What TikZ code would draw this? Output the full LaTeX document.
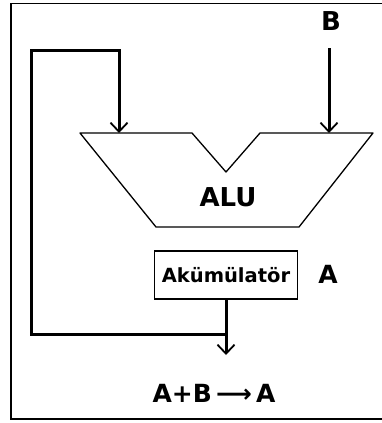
\documentclass[tikz,border=0pt]{standalone}
\usepackage{fontspec}
\setmainfont{DejaVu Sans}
\usetikzlibrary{arrows.meta}

\tikzset{
  feed/.style={line width=3pt,
    -{Straight Barb[length=9pt,width=17pt,line width=1.8pt]}},
  outline/.style={line width=1.3pt},
  biglbl/.style={font=\bfseries\fontsize{26}{30}\selectfont, inner sep=0pt},
  midlbl/.style={font=\bfseries\fontsize{25}{30}\selectfont, inner sep=0pt},
  reg/.style={draw, outline, minimum width=143pt, minimum height=48pt,
    inner sep=0pt, font=\bfseries\fontsize{19.5}{22}\selectfont},
}

\begin{document}
\begin{tikzpicture}
    [x=1pt,y=-1pt]
    \useasboundingbox (0,0) rectangle (382,423);
    %frame
    \draw[line width=2pt] (382,419)--(11,419)--(11,3);
    \draw[line width=1pt] (11,3)--(382,3);
    %alu
    \draw[outline,line join=round] (80,133)--(192,133)--(226,172)--(260,133)
      --(373,133)--(299,227)--(156,227)--cycle;
    \node[biglbl] (alu) at (228,197) {ALU};
    \coordinate (aluA) at (119,133);
    \coordinate (aluB) at (329,133);
    %inputs
    \node[biglbl] (B) at (331,21) {B};
    \coordinate (Bin) at (329,48);
    \draw[feed] (Bin)--(aluB);
    %accumulator
    \node[reg] (acc) at (226,275) {Akümülatör};
    \node[midlbl] (A) at (328,274) {A};
    %output and feedback
    \coordinate (join) at (acc.south |- 0,334);
    \coordinate (out) at (acc.south |- 0,355);
    \draw[feed] (acc.south)--(out);
    \draw[feed] (join)--(31,334)--(31,50)--(aluA |- 0,50)--(aluA);
    %result
    \node[midlbl] (res) at (214,393) {A+B\,⟶\,A};
\end{tikzpicture}
\end{document}
